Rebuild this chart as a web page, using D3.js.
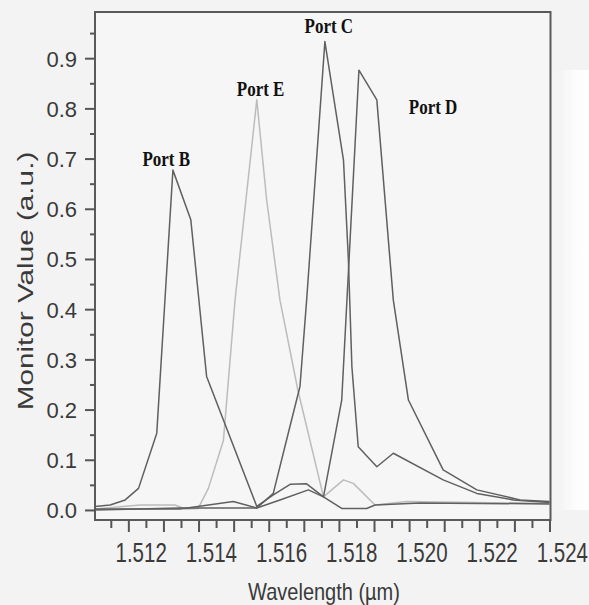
<!DOCTYPE html>
<html>
<head>
<meta charset="utf-8">
<script src="https://cdn.jsdelivr.net/npm/d3@7"></script>
<style>
  html, body { margin: 0; padding: 0; background: #f3f3f3; }
  svg { display: block; }
</style>
</head>
<body>
<svg id="chart" width="589" height="605"></svg>
<script>
// Monitor spectra at the output ports: [wavelength (µm), monitor value (a.u.)]
const portB = [
  [1.51105, 0.007], [1.51148, 0.010], [1.51191, 0.020], [1.51229, 0.043],
  [1.51281, 0.153], [1.51327, 0.677], [1.51378, 0.578], [1.51423, 0.266],
  [1.51566, 0.007], [1.51613, 0.030], [1.51661, 0.051], [1.51708, 0.052],
  [1.51756, 0.026], [1.51808, 0.003], [1.51879, 0.003], [1.51903, 0.010],
  [1.52031, 0.014], [1.52400, 0.012]
];
const portE = [
  [1.51105, 0.002], [1.51233, 0.010], [1.51333, 0.010], [1.51362, 0.002],
  [1.51399, 0.003], [1.51428, 0.043], [1.51471, 0.139], [1.51504, 0.418],
  [1.51566, 0.817], [1.51594, 0.618], [1.51632, 0.418], [1.51683, 0.239],
  [1.51756, 0.026], [1.51813, 0.060], [1.51841, 0.053], [1.51903, 0.010],
  [1.51993, 0.017], [1.52400, 0.013]
];
const portC = [
  [1.51105, 0.002], [1.51347, 0.002], [1.51499, 0.017], [1.51566, 0.004],
  [1.51613, 0.033], [1.51646, 0.126], [1.51689, 0.246], [1.51708, 0.418],
  [1.51760, 0.933], [1.51813, 0.697], [1.51827, 0.498], [1.51837, 0.285],
  [1.51855, 0.126], [1.51908, 0.086], [1.51955, 0.113], [1.52097, 0.060],
  [1.52193, 0.033], [1.52297, 0.020], [1.52400, 0.015]
];
const portD = [
  [1.51105, 0.000], [1.51347, 0.004], [1.51566, 0.004], [1.51632, 0.020],
  [1.51713, 0.040], [1.51756, 0.026], [1.51808, 0.219], [1.51857, 0.876],
  [1.51908, 0.817], [1.51955, 0.418], [1.51998, 0.219], [1.52097, 0.080],
  [1.52193, 0.040], [1.52316, 0.020], [1.52400, 0.017]
];

const series = [
  { name: "Port B", data: portB, color: "#606060" },
  { name: "Port C", data: portC, color: "#606060" },
  { name: "Port D", data: portD, color: "#606060" },
  { name: "Port E", data: portE, color: "#bcbcbc" }
];

// Peak annotations: label, wavelength and value of the text anchor
const portLabels = ["Port B", "Port E", "Port C", "Port D"];
const portLabelPos = [[1.51240, 0.685], [1.51509, 0.825], [1.51702, 0.950], [1.51999, 0.788]];

const yMajorTicks = [0, 0.1, 0.2, 0.3, 0.4, 0.5, 0.6, 0.7, 0.8, 0.9];
const yMinorTicks = [0.05, 0.15, 0.25, 0.35, 0.45, 0.55, 0.65, 0.75, 0.85, 0.95];
const xLabelTicks = [1.512, 1.514, 1.516, 1.518, 1.520, 1.522, 1.524];

const svg = d3.select("#chart");
const x = d3.scaleLinear().domain([1.51105, 1.524]).range([95, 549.5]);
const y = d3.scaleLinear().domain([-0.02, 0.992]).range([520, 12]);

const plotLeft = x.range()[0], plotRight = x.range()[1] + 1;
const plotTop = y.range()[1], plotBottom = y.range()[0];

// paler margin at the far right of the figure, fading in from the page grey
const defs = svg.append("defs");
const fade = defs.append("linearGradient").attr("id", "rightFade")
  .attr("x1", "0").attr("x2", "1").attr("y1", "0").attr("y2", "0");
fade.append("stop").attr("offset", "0").attr("stop-color", "#f3f3f3");
fade.append("stop").attr("offset", "0.6").attr("stop-color", "#fdfdfd");
fade.append("stop").attr("offset", "1").attr("stop-color", "#fefefe");
svg.append("rect").attr("x", 558).attr("y", 70).attr("width", 31).attr("height", 440).attr("fill", "url(#rightFade)");

// plot background
svg.append("rect")
  .attr("x", plotLeft).attr("y", plotTop)
  .attr("width", plotRight - plotLeft).attr("height", plotBottom - plotTop)
  .attr("fill", "#f6f6f6");

// curves
const line = d3.line().x(d => x(d[0])).y(d => y(d[1]));
const plot = svg.append("g");
series.slice().reverse().forEach(s => {
  plot.append("path")
    .datum(s.data)
    .attr("fill", "none")
    .attr("stroke", s.color)
    .attr("stroke-width", 1.5)
    .attr("stroke-linejoin", "round")
    .attr("d", line);
});

// frame
svg.append("rect")
  .attr("x", plotLeft).attr("y", plotTop)
  .attr("width", plotRight - plotLeft).attr("height", plotBottom - plotTop)
  .attr("fill", "none").attr("stroke", "#5a5a5a").attr("stroke-width", 2);

// y axis ticks (outward, on the left)
const axisColor = "#555";
const yAxisMajor = d3.axisLeft(y).tickValues(yMajorTicks).tickSize(10).tickFormat("");
const yAxisMinor = d3.axisLeft(y).tickValues(yMinorTicks).tickSize(5).tickFormat("");
[yAxisMajor, yAxisMinor].forEach(ax => {
  const g = svg.append("g").attr("transform", `translate(${plotLeft},0)`).call(ax);
  g.select(".domain").remove();
  g.selectAll("line").attr("stroke", axisColor).attr("stroke-width", 2);
});

// x axis ticks (outward, below)
const xMajor = d3.range(1.512, 1.52401, 0.001);
const xMinor = d3.range(1.5115, 1.5236, 0.001);
const xAxisMajor = d3.axisBottom(x).tickValues(xMajor).tickSize(12).tickFormat("");
const xAxisMinor = d3.axisBottom(x).tickValues(xMinor).tickSize(8).tickFormat("");
[xAxisMajor, xAxisMinor].forEach(ax => {
  const g = svg.append("g").attr("transform", `translate(0,${plotBottom})`).call(ax);
  g.select(".domain").remove();
  g.selectAll("line").attr("stroke", axisColor).attr("stroke-width", 2);
});

const textColor = "#3a3a3a";
const sansFont = "'Liberation Sans', Arial, Helvetica, sans-serif";

// y tick labels
svg.append("g").selectAll("text")
  .data(yMajorTicks).join("text")
  .attr("x", 77).attr("y", d => y(d) + 8.5)
  .attr("text-anchor", "end")
  .attr("font-family", sansFont).attr("font-size", 22)
  .attr("fill", textColor)
  .text(d => d3.format(".1f")(d));

// x tick labels
svg.append("g").selectAll("text")
  .data(xLabelTicks).join("text")
  .attr("transform", d => `translate(${x(d) + 12.8},562) scale(1,1.38)`)
  .attr("text-anchor", "middle")
  .attr("font-family", sansFont).attr("font-size", 20.5)
  .attr("fill", textColor)
  .text(d => d3.format(".3f")(d));

// axis titles
svg.append("text")
  .attr("transform", "translate(324,600) scale(1,1.17)")
  .attr("text-anchor", "middle")
  .attr("font-family", sansFont).attr("font-size", 20)
  .attr("fill", textColor)
  .text("Wavelength (\u00b5m)");

svg.append("text")
  .attr("transform", "translate(33,281) rotate(-90) scale(1.35,1)")
  .attr("text-anchor", "middle")
  .attr("font-family", sansFont).attr("font-size", 22)
  .attr("fill", textColor)
  .text("Monitor Value (a.u.)");

// port annotations
svg.append("g").selectAll("text")
  .data(portLabels).join("text")
  .attr("transform", (d, i) => `translate(${x(portLabelPos[i][0])},${y(portLabelPos[i][1])}) scale(1,1.2)`)
  .attr("font-family", "'Liberation Serif', 'Times New Roman', serif")
  .attr("font-weight", "bold").attr("font-size", 17)
  .attr("fill", "#111")
  .text(d => d);
</script>
</body>
</html>
